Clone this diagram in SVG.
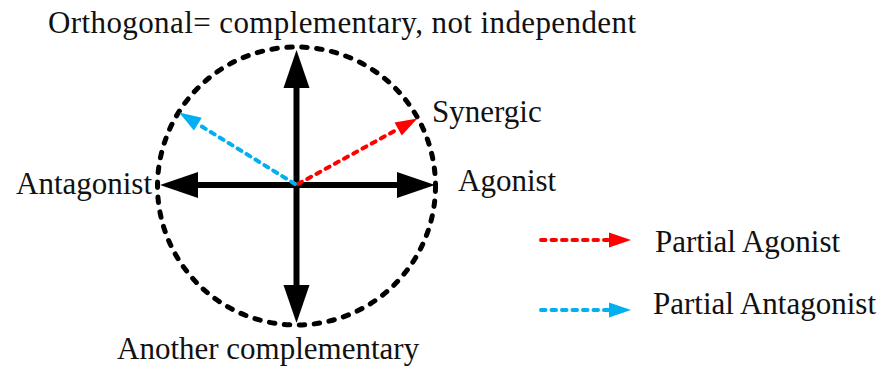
<svg xmlns="http://www.w3.org/2000/svg" width="887" height="374" viewBox="0 0 887 374">
<style>
text{font-family:"Liberation Serif","Times New Roman",serif;font-size:31px;fill:#111}
.axis{stroke:#000;stroke-width:6;fill:none}
.red{stroke:#FF0000;stroke-width:4;stroke-dasharray:4.5 6;stroke-linecap:round;fill:none}
.blue{stroke:#00B0F0;stroke-width:4;stroke-dasharray:4.5 6;stroke-linecap:round;fill:none}
</style>
<defs>
<marker id="bh" markerUnits="userSpaceOnUse" markerWidth="40" markerHeight="28" refX="1" refY="13" orient="auto" overflow="visible">
<path d="M0,0 L38,13 L0,26 z" fill="#000"/>
</marker>
<marker id="rh" markerUnits="userSpaceOnUse" markerWidth="24" markerHeight="18" refX="1" refY="7.5" orient="auto" overflow="visible">
<path d="M0,0 L22,7.5 L0,15 z" fill="#FF0000"/>
</marker>
<marker id="ch" markerUnits="userSpaceOnUse" markerWidth="24" markerHeight="18" refX="1" refY="7.5" orient="auto" overflow="visible">
<path d="M0,0 L22,7.5 L0,15 z" fill="#00B0F0"/>
</marker>
</defs>
<g id="circle">
<circle cx="296.5" cy="186" r="139" fill="none" stroke="#000" stroke-width="5" stroke-dasharray="5.5 9.5" stroke-linecap="round"/>
</g>
<g id="connectors">
<line class="axis" x1="296.5" y1="185" x2="398" y2="185" marker-end="url(#bh)"/>
<line class="axis" x1="296.5" y1="185" x2="197" y2="185" marker-end="url(#bh)"/>
<line class="axis" x1="296.5" y1="185" x2="296.5" y2="87" marker-end="url(#bh)"/>
<line class="axis" x1="296.5" y1="185" x2="296.5" y2="286" marker-end="url(#bh)"/>
<line class="red" x1="298" y1="184" x2="399" y2="128.5" marker-end="url(#rh)"/>
<line class="blue" x1="295" y1="184" x2="197" y2="123.5" marker-end="url(#ch)"/>
<line class="red" x1="541" y1="240" x2="610" y2="240" marker-end="url(#rh)"/>
<line class="blue" x1="541" y1="310" x2="610" y2="310" marker-end="url(#ch)"/>
</g>
<g id="title"><text x="48" y="33" textLength="588">Orthogonal= complementary, not independent</text></g>
<g id="synergic"><text x="432" y="122">Synergic</text></g>
<g id="agonist"><text x="458" y="191">Agonist</text></g>
<g id="antagonist"><text x="16" y="194">Antagonist</text></g>
<g id="another"><text x="117" y="359">Another complementary</text></g>
<g id="legend-partial-agonist"><text x="655" y="252">Partial Agonist</text></g>
<g id="legend-partial-antagonist"><text x="653" y="314">Partial Antagonist</text></g>
</svg>
